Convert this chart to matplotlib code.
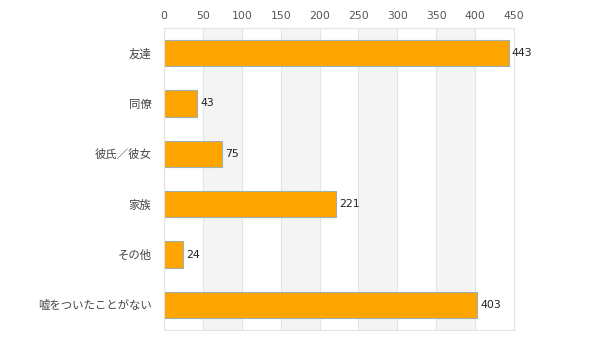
import matplotlib.pyplot as plt

plt.rcParams['font.family'] = ['DejaVu Sans', 'Noto Sans CJK JP']

categories = ['友達', '同僚', '彼氏／彼女', '家族', 'その他', '嘘をついたことがない']
values = [443, 43, 75, 221, 24, 403]
ticks = [0, 50, 100, 150, 200, 250, 300, 350, 400, 450]

fig = plt.figure(figsize=(6, 3.52), dpi=100)
ax = fig.add_axes([164 / 600, 1 - 330 / 352, 350 / 600, 302 / 352])

# alternating background bands
for i in range(len(ticks) - 1):
    if i % 2 == 1:
        ax.axvspan(ticks[i], ticks[i + 1], color='#f4f4f4', zorder=0, lw=0)
for t in ticks:
    ax.axvline(t, color='#e4e4e4', lw=0.8, zorder=0.5)

y = list(range(len(categories)))
ax.barh(y, values, height=0.52, color='#ffa500', edgecolor='#9fb0b0', lw=0.8, zorder=2)
for yi, v in zip(y, values):
    ax.text(v + 4, yi, str(v), va='center', ha='left', fontsize=7.8, color='#222222')

ax.set_xlim(0, 450)
ax.set_ylim(len(categories) - 0.5, -0.5)
ax.set_yticks(y)
ax.set_yticklabels(categories, fontsize=8.2, color='#444444')
ax.set_xticks(ticks)
ax.xaxis.tick_top()
ax.tick_params(axis='x', length=0, labelsize=7.8, labelcolor='#555555', pad=5)
ax.tick_params(axis='y', length=0, pad=9)
for s in ax.spines.values():
    s.set_color('#e4e4e4')
    s.set_linewidth(0.8)

fig.savefig('out.png', dpi=100)
